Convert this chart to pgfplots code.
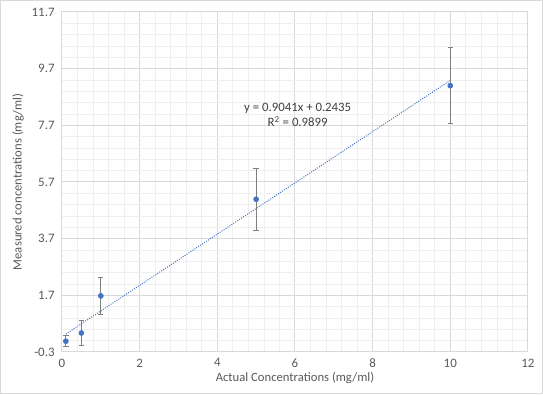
\documentclass[border=0pt]{standalone}
\usepackage{fontspec}
\setmainfont{Carlito}
\usepackage{pgfplots}
\usepackage{pgfplotstable}
\pgfplotsset{compat=1.18}
\definecolor{txtgray}{HTML}{595959}
\definecolor{eqgray}{HTML}{404040}
\definecolor{majgrid}{HTML}{D9D9D9}
\definecolor{mingrid}{HTML}{EFEFEF}
\definecolor{ptblue}{HTML}{4472C4}
\definecolor{errgray}{HTML}{7F7F7F}
\pgfplotstableread{
x y err
0.1 0.08 0.20
0.5 0.37 0.45
1 1.68 0.66
5 5.09 1.10
10 9.10 1.35
}\datatable
\pgfplotstableread{
x y
0.1 0.33391
10 9.2845
}\trendtable
\begin{document}
\begin{tikzpicture}
\begin{axis}[
  name=ax,
  scale only axis,
  width=349.5pt, height=255pt,
  xmin=0, xmax=12, ymin=-0.3, ymax=11.7,
  xtick={0,2,...,12},
  ytick={-0.3,1.7,3.7,5.7,7.7,9.7,11.7},
  minor x tick num=4, minor y tick num=4,
  grid=both,
  major grid style={majgrid, line width=0.75pt},
  minor grid style={mingrid, line width=0.6pt},
  axis line style={majgrid, line width=0.75pt},
  tick style={draw=none},
  /pgf/number format/assume math mode=true,
  ticklabel style={font=\fontsize{9.7}{11}\selectfont, text=txtgray},
  yticklabel style={xshift=-2pt, /pgf/number format/.cd, fixed, fixed zerofill, precision=1},
  xticklabel style={yshift=-1.5pt},
  xlabel={Actual Concentrations (mg/ml)},
  ylabel={Measured concentrations (mg/ml)},
  label style={font=\fontsize{9.5}{11}\selectfont, text=txtgray},
  xlabel style={yshift=3.5pt},
  ylabel style={yshift=-1pt},
  clip=false,
]
\addplot[ptblue, densely dotted, line width=0.75pt] table[x=x, y=y] {\trendtable};
\addplot[only marks, mark=*, mark size=1.9pt, mark options={fill=ptblue, draw=ptblue},
  error bars/.cd, y dir=both, y explicit,
  error bar style={errgray, line width=0.9pt},
  error mark options={errgray, rotate=90, mark size=2pt, line width=0.7pt}]
  table[x=x, y=y, y error=err] {\datatable};
\node[align=center, text=eqgray, font=\fontsize{9.6}{11.5}\selectfont] at (axis cs:6.07,8.06) {y = 0.9041x + 0.2435\\R\textsuperscript{2} = 0.9899};
\end{axis}
\draw[majgrid, line width=0.75pt] ([shift={(-46.1pt,-31.4pt)}]ax.south west) rectangle ([shift={(10.9pt,8.6pt)}]ax.north east);
\end{tikzpicture}
\end{document}
